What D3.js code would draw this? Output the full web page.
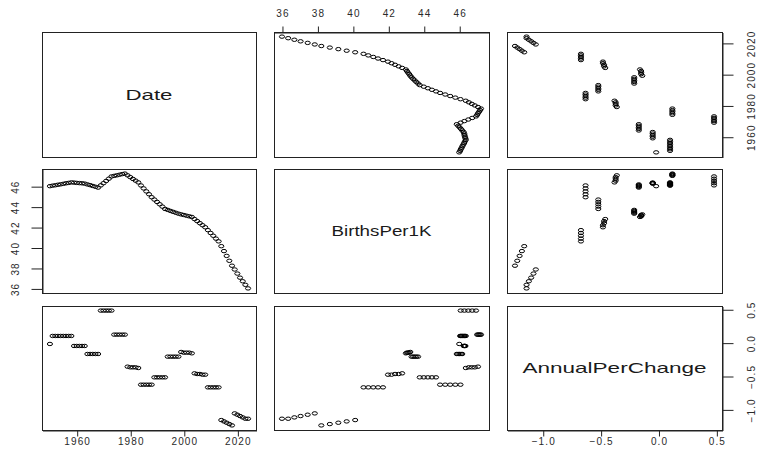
<!DOCTYPE html>
<html>
<head>
<meta charset="utf-8">
<script src="https://cdn.jsdelivr.net/npm/d3@7"></script>
<style>
  body { margin: 0; background: #fff; }
  text { font-family: "Liberation Sans", Arial, sans-serif; }
</style>
</head>
<body>
<div id="chart"></div>
<script>
// data
const years = [1950, 1951, 1952, 1953, 1954, 1955, 1956, 1957, 1958, 1959,
  1960, 1961, 1962, 1963, 1964, 1965, 1966, 1967, 1968, 1969,
  1970, 1971, 1972, 1973, 1974, 1975, 1976, 1977, 1978, 1979,
  1980, 1981, 1982, 1983, 1984, 1985, 1986, 1987, 1988, 1989,
  1990, 1991, 1992, 1993, 1994, 1995, 1996, 1997, 1998, 1999,
  2000, 2001, 2002, 2003, 2004, 2005, 2006, 2007, 2008, 2009,
  2010, 2011, 2012, 2013, 2014, 2015, 2016, 2017, 2018, 2019,
  2020, 2021, 2022, 2023, 2024];

const birthsPer1K = [46.00, 46.05, 46.09, 46.14, 46.18, 46.23, 46.28, 46.32, 46.37, 46.35,
  46.32, 46.30, 46.28, 46.25, 46.17, 46.10, 46.02, 45.94, 45.86, 46.08,
  46.29, 46.51, 46.73, 46.95, 47.01, 47.06, 47.12, 47.18, 47.23, 47.06,
  46.88, 46.71, 46.54, 46.37, 46.07, 45.78, 45.49, 45.21, 44.92, 44.69,
  44.46, 44.23, 44.00, 43.77, 43.68, 43.58, 43.49, 43.40, 43.31, 43.24,
  43.18, 43.11, 43.05, 42.99, 42.78, 42.58, 42.38, 42.18, 41.98, 41.70,
  41.42, 41.15, 40.87, 40.60, 40.13, 39.65, 39.18, 38.70, 38.22, 37.85,
  37.45, 37.05, 36.70, 36.35, 36.00];

const annualPerChange = [-0.02, 0.10, 0.10, 0.10, 0.10, 0.10, 0.10, 0.10, 0.10, -0.05,
  -0.05, -0.05, -0.05, -0.05, -0.17, -0.17, -0.17, -0.17, -0.17, 0.48,
  0.48, 0.48, 0.48, 0.48, 0.12, 0.12, 0.12, 0.12, 0.12, -0.36,
  -0.37, -0.37, -0.37, -0.38, -0.63, -0.63, -0.63, -0.63, -0.63, -0.52,
  -0.52, -0.52, -0.52, -0.52, -0.21, -0.21, -0.21, -0.21, -0.21, -0.14,
  -0.15, -0.15, -0.15, -0.16, -0.46, -0.47, -0.47, -0.48, -0.48, -0.67,
  -0.67, -0.67, -0.67, -0.67, -1.16, -1.18, -1.20, -1.22, -1.24, -1.06,
  -1.08, -1.10, -1.12, -1.14, -1.14];

const varNames = ["Date", "BirthsPer1K", "AnnualPerChange"];
const dateTicks = [1960, 1980, 2000, 2020];
const birthTicks = [36, 38, 40, 42, 44, 46];
const changeTicks = [-1.0, -0.5, 0.0, 0.5];

// layout
const width = 757, height = 457;
const colX = [[42, 256], [274, 489], [507, 722]];
const rowY = [[32, 157], [169, 293], [306, 430]];
const labelWidths = [47, 100, 184]; // the labels look stretched sideways

const columns = [years, birthsPer1K, annualPerChange];
const tickSets = [dateTicks, birthTicks, changeTicks];
const tickFormats = [d3.format("d"), d3.format("d"), d3.format(".1f")];
const n = columns.length;

// R pads each range by 4% on both sides
function padded(values) {
  const e = d3.extent(values);
  const p = (e[1] - e[0]) * 0.04;
  return [e[0] - p, e[1] + p];
}

const xScales = columns.map((v, j) => d3.scaleLinear().domain(padded(v)).range(colX[j]));
const yScales = columns.map((v, i) => d3.scaleLinear().domain(padded(v)).range([rowY[i][1], rowY[i][0]]));

const svg = d3.select("#chart")
  .append("svg")
  .attr("width", width)
  .attr("height", height);

function styleAxis(g) {
  g.attr("font-family", null).attr("font-size", null);
  g.select(".domain").attr("stroke", "#222");
  g.selectAll(".tick line").attr("stroke", "#222");
  g.selectAll(".tick text")
    .attr("fill", "#2a2a2a")
    .style("font-size", "10px")
    .style("letter-spacing", "1.1px");
}

for (let i = 0; i < n; i++) {
  for (let j = 0; j < n; j++) {
    const x = xScales[j], y = yScales[i];
    const panel = svg.append("g");

    if (i === j) {
      // variable name on the diagonal
      panel.append("text")
        .attr("x", (colX[j][0] + colX[j][1]) / 2)
        .attr("y", (rowY[i][0] + rowY[i][1]) / 2 + 5.4)
        .attr("text-anchor", "middle")
        .attr("textLength", labelWidths[i])
        .attr("lengthAdjust", "spacingAndGlyphs")
        .style("font-size", "15px")
        .attr("fill", "#1a1a1a")
        .text(varNames[i]);
    } else {
      const pts = years.map((d, k) => [columns[j][k], columns[i][k]]);
      panel.append("g")
        .selectAll("ellipse")
        .data(pts)
        .enter()
        .append("ellipse")
        .attr("cx", d => x(d[0]))
        .attr("cy", d => y(d[1]))
        .attr("rx", 2.6)
        .attr("ry", 1.7)
        .attr("fill", "none")
        .attr("stroke", "#000")
        .attr("stroke-width", 1);
    }

    // panel box
    panel.append("rect")
      .attr("x", colX[j][0] + 0.5)
      .attr("y", rowY[i][0] + 0.5)
      .attr("width", colX[j][1] - colX[j][0])
      .attr("height", rowY[i][1] - rowY[i][0])
      .attr("fill", "none")
      .attr("stroke", "#222")
      .attr("stroke-width", 1);

    // axes, alternating sides like pairs()
    if (i === 0 && j % 2 === 1) {
      const g = svg.append("g")
        .attr("transform", "translate(0.5," + (rowY[i][0] + 0.5) + ")")
        .call(d3.axisTop(x).tickValues(tickSets[j]).tickFormat(tickFormats[j]).tickSize(6).tickSizeOuter(0));
      styleAxis(g);
      g.selectAll(".tick text").attr("y", -15.3).attr("dy", 0);
    }
    if (i === n - 1 && j % 2 === 0) {
      const g = svg.append("g")
        .attr("transform", "translate(0.5," + (rowY[i][1] + 0.5) + ")")
        .call(d3.axisBottom(x).tickValues(tickSets[j]).tickFormat(tickFormats[j]).tickSize(6).tickSizeOuter(0));
      styleAxis(g);
      g.selectAll(".tick text").attr("y", 14.5).attr("dy", 0);
    }
    if (j === 0 && i % 2 === 1) {
      const g = svg.append("g")
        .attr("transform", "translate(" + (colX[j][0] + 0.5) + ",0.5)")
        .call(d3.axisLeft(y).tickValues(tickSets[i]).tickFormat(tickFormats[i]).tickSize(11).tickSizeOuter(0));
      styleAxis(g);
      g.selectAll(".tick text")
        .attr("x", 0).attr("dy", 0)
        .attr("text-anchor", "middle")
        .attr("transform", "translate(-23.6,0) rotate(-90)");
    }
    if (j === n - 1 && i % 2 === 0) {
      const g = svg.append("g")
        .attr("transform", "translate(" + (colX[j][1] + 0.5) + ",0.5)")
        .call(d3.axisRight(y).tickValues(tickSets[i]).tickFormat(tickFormats[i]).tickSize(11).tickSizeOuter(0));
      styleAxis(g);
      g.selectAll(".tick text")
        .attr("x", 0).attr("dy", 0)
        .attr("text-anchor", "middle")
        .attr("transform", "translate(32.4,0) rotate(-90)");
    }
  }
}
</script>
</body>
</html>
